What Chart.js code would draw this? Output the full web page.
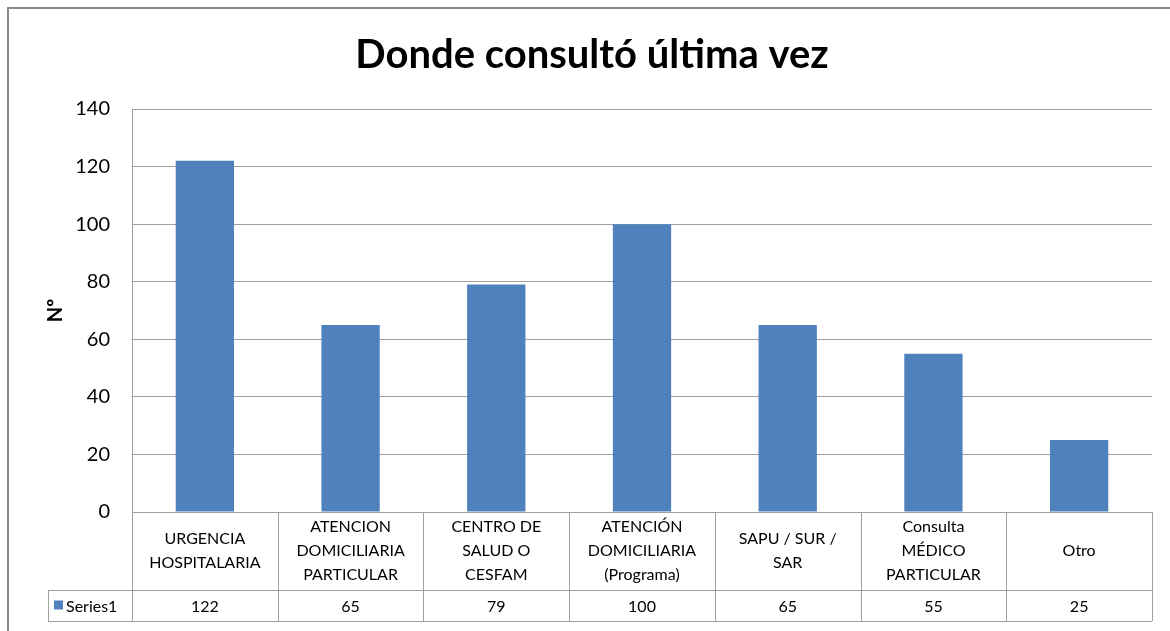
<!DOCTYPE html>
<html>
<head>
<meta charset="utf-8">
<script src="https://cdn.jsdelivr.net/npm/chart.js@4/dist/chart.umd.min.js"></script>
<style>
  html, body { margin: 0; padding: 0; background: #fff; }
  #wrap { width: 1170px; height: 631px; position: relative; }
</style>
</head>
<body>
<div id="wrap"><canvas id="consultaChart" width="1170" height="631"></canvas></div>
<script>
// Data
const categories = [
    ['URGENCIA', 'HOSPITALARIA'],
    ['ATENCION', 'DOMICILIARIA', 'PARTICULAR'],
    ['CENTRO DE', 'SALUD O', 'CESFAM'],
    ['ATENCIÓN', 'DOMICILIARIA', '(Programa)'],
    ['SAPU / SUR /', 'SAR'],
    ['Consulta', 'MÉDICO', 'PARTICULAR'],
    ['Otro']
];
const seriesName = 'Series1';
const seriesValues = [122, 65, 79, 100, 65, 55, 25];
const yTicks = [0, 20, 40, 60, 80, 100, 120, 140];

const FONT = 'Lato, "Liberation Sans", sans-serif';
const BAR_COLOR = '#4F81BD';
const LINE_COLOR = '#a0a0a0';

// Outer frame + data table under the plot (Excel style)
const tablePlugin = {
    id: 'dataTable',
    beforeDraw(chart) {
        const ctx = chart.ctx;
        ctx.save();
        ctx.fillStyle = '#fff';
        ctx.fillRect(0, 0, chart.width, chart.height);
        ctx.strokeStyle = '#8a8a8a';
        ctx.lineWidth = 2;
        ctx.beginPath();
        ctx.moveTo(8, chart.height);
        ctx.lineTo(8, 8);
        ctx.lineTo(chart.width, 8);
        ctx.stroke();
        ctx.restore();
    },
    afterDraw(chart) {
        const ctx = chart.ctx;
        const area = chart.chartArea;
        const xs = chart.scales.x;
        const rowTop = area.bottom;
        const rowMid = rowTop + 78;
        const rowBot = rowMid + 31;
        const legendLeft = 48;
        const half = (xs.getPixelForValue(1) - xs.getPixelForValue(0)) / 2;

        ctx.save();
        ctx.strokeStyle = LINE_COLOR;
        ctx.lineWidth = 1;
        ctx.beginPath();
        // horizontal rules
        ctx.moveTo(area.left, rowTop + 0.5); ctx.lineTo(area.right, rowTop + 0.5);
        ctx.moveTo(legendLeft, rowMid + 0.5); ctx.lineTo(area.right, rowMid + 0.5);
        ctx.moveTo(legendLeft, rowBot + 0.5); ctx.lineTo(area.right, rowBot + 0.5);
        // vertical rules
        ctx.moveTo(legendLeft + 0.5, rowMid); ctx.lineTo(legendLeft + 0.5, rowBot);
        ctx.moveTo(area.left + 0.5, area.top); ctx.lineTo(area.left + 0.5, rowBot);
        categories.forEach((c, i) => {
            const x = Math.round(xs.getPixelForValue(i) + half) + 0.5;
            ctx.moveTo(x, rowTop); ctx.lineTo(x, rowBot);
        });
        ctx.stroke();

        // category labels
        ctx.fillStyle = '#000';
        ctx.font = '16px ' + FONT;
        ctx.textAlign = 'center';
        ctx.textBaseline = 'middle';
        const lh = 24;
        categories.forEach((lines, i) => {
            const cx = xs.getPixelForValue(i);
            const y0 = (rowTop + rowMid) / 2 - (lines.length - 1) * lh / 2;
            lines.forEach((t, j) => ctx.fillText(t, cx, y0 + j * lh));
            ctx.fillText(String(seriesValues[i]), cx, (rowMid + rowBot) / 2 + 1);
        });

        // legend key
        ctx.fillStyle = BAR_COLOR;
        ctx.fillRect(54, (rowMid + rowBot) / 2 - 5, 9, 9);
        ctx.fillStyle = '#000';
        ctx.textAlign = 'left';
        ctx.fillText(seriesName, 66, (rowMid + rowBot) / 2 + 1);
        ctx.restore();
    }
};

const ctx = document.getElementById('consultaChart').getContext('2d');
const consultaChart = new Chart(ctx, {
    type: 'bar',
    data: {
        labels: categories,
        datasets: [{
            label: seriesName,
            data: seriesValues,
            backgroundColor: BAR_COLOR,
            borderWidth: 0,
            categoryPercentage: 1,
            barPercentage: 0.4
        }]
    },
    options: {
        responsive: false,
        animation: false,
        layout: {
            padding: { left: 32, right: 18, top: 0, bottom: 119 }
        },
        plugins: {
            legend: { display: false },
            tooltip: { enabled: false },
            title: {
                display: true,
                text: 'Donde consultó última vez',
                color: '#000',
                font: { family: FONT, size: 40, weight: 'bold' },
                padding: { top: 31, bottom: 30 }
            }
        },
        scales: {
            x: {
                ticks: { display: false },
                grid: { display: false, drawTicks: false },
                border: { display: false }
            },
            y: {
                min: 0,
                max: 140,
                afterBuildTicks: s => { s.ticks = yTicks.map(v => ({ value: v })); },
                afterFit: s => { s.width = 100; },
                ticks: {
                    color: '#000',
                    padding: 22,
                    font: { family: FONT, size: 20 }
                },
                grid: { color: LINE_COLOR, drawTicks: false },
                border: { display: false },
                title: {
                    display: true,
                    text: 'Nº',
                    color: '#000',
                    font: { family: FONT, size: 20, weight: 'bold' },
                    padding: { top: 12, bottom: 0 }
                }
            }
        }
    },
    plugins: [tablePlugin]
});
</script>
</body>
</html>
